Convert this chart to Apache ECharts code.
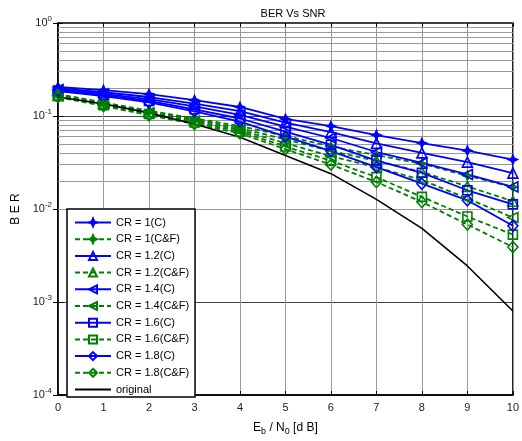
<!DOCTYPE html>
<html><head><meta charset="utf-8">
<script src="https://cdn.jsdelivr.net/npm/echarts@6/dist/echarts.min.js"></script>
<style>html,body{margin:0;padding:0;background:#fff}#c{width:522px;height:441px}</style>
</head><body><div id="c"></div>
<script>
const snr = [0,1,2,3,4,5,6,7,8,9,10];
const cr10C  = [0.205,0.190,0.172,0.148,0.125,0.093,0.078,0.0623,0.0512,0.0424,0.0340];
const cr10CF = [0.172,0.140,0.114,0.094,0.078,0.061,0.047,0.0380,0.0306,0.0228,0.0172];
const cr12C  = [0.198,0.180,0.160,0.136,0.113,0.085,0.067,0.0508,0.0401,0.0319,0.0243];
const cr12CF = [0.168,0.137,0.111,0.091,0.074,0.056,0.042,0.0330,0.0250,0.0175,0.0121];
const cr14C  = [0.193,0.173,0.152,0.127,0.103,0.077,0.058,0.0410,0.0313,0.0235,0.0173];
const cr14CF = [0.165,0.134,0.108,0.088,0.071,0.051,0.037,0.0280,0.0205,0.0130,0.0081];
const cr16C  = [0.188,0.168,0.145,0.118,0.094,0.068,0.049,0.0332,0.0245,0.0159,0.0112];
const cr16CF = [0.163,0.131,0.105,0.085,0.068,0.047,0.033,0.0220,0.0135,0.0083,0.0053];
const cr18C  = [0.185,0.164,0.140,0.112,0.087,0.060,0.042,0.0282,0.0187,0.0124,0.0066];
const cr18CF = [0.160,0.128,0.102,0.082,0.065,0.044,0.030,0.0195,0.0119,0.0068,0.0039];
const original = [0.160,0.135,0.108,0.082,0.059,0.0375,0.024,0.0127,0.0062,0.00244,0.0008];
const seriesNames = ['CR = 1(C)','CR = 1(C&F)','CR = 1.2(C)','CR = 1.2(C&F)','CR = 1.4(C)','CR = 1.4(C&F)','CR = 1.6(C)','CR = 1.6(C&F)','CR = 1.8(C)','CR = 1.8(C&F)','original'];
const seriesValues = [cr10C,cr10CF,cr12C,cr12CF,cr14C,cr14CF,cr16C,cr16CF,cr18C,cr18CF,original];
const yDecades = [-4,-3,-2,-1];
const minorMults = [2,3,4,5,6,7,8,9];

const FONT = 'Liberation Sans, Arial, sans-serif';
const BLUE = '#0000ff', GREEN = '#008000';
const starPath = 'path://M0,-10 L3,-3 L10,0 L3,3 L0,10 L-3,3 L-10,0 L-3,-3 Z';
const markers = [
  {symbol: starPath, size: 9, rot: 0, fill: true},
  {symbol: 'triangle', size: 10, rot: 0, fill: false},
  {symbol: 'triangle', size: 10, rot: 90, fill: false},
  {symbol: 'rect', size: 9, rot: 0, fill: false},
  {symbol: 'diamond', size: [10,11], rot: 0, fill: false}
];

const minorVals = [];
yDecades.forEach(d => minorMults.forEach(m => minorVals.push(m * Math.pow(10, d))));

const series = [];
series.push({
  type: 'line', data: [], silent: true, z: 0,
  markLine: {
    silent: true, symbol: 'none', z: 1, label: {show: false},
    lineStyle: {color: '#999', width: 1, type: 'solid'},
    data: minorVals.map(v => ({yAxis: v}))
  }
});
seriesNames.forEach((name, i) => {
  const vals = seriesValues[i];
  const data = snr.map((x, j) => [x, vals[j]]);
  if (i === 10) {
    series.push({name, type: 'line', data, showSymbol: false, symbol: 'none',
      lineStyle: {color: '#000', width: 1.6}, itemStyle: {color: '#000'}, z: 3});
    return;
  }
  const mk = markers[Math.floor(i / 2)];
  const isCF = i % 2 === 1;
  const col = isCF ? GREEN : BLUE;
  series.push({
    name, type: 'line', data,
    symbol: mk.symbol, symbolSize: mk.size, symbolRotate: mk.rot, showSymbol: true,
    lineStyle: {color: col, width: 1.8, type: isCF ? [5, 3] : 'solid'},
    itemStyle: {color: mk.fill ? col : 'rgba(0,0,0,0)', borderColor: col, borderWidth: 1.6},
    z: 3
  });
});

const legendData = seriesNames.map(n => n === 'original'
  ? {name: n, itemStyle: {opacity: 0}}
  : {name: n});

const chart = echarts.init(document.getElementById('c'), null, {renderer: 'canvas'});
chart.setOption({
  animation: false,
  backgroundColor: '#fff',
  textStyle: {fontFamily: FONT},
  title: {text: 'BER Vs SNR', left: 288, top: 3, textAlign: 'center',
    textStyle: {fontFamily: FONT, fontSize: 11, fontWeight: 'normal', color: '#000'}},
  grid: {left: 58, right: 3, top: 23, bottom: 43, show: true, borderColor: '#000', borderWidth: 1.5, containLabel: false},
  legend: {
    orient: 'vertical', left: 67, top: 209,
    data: legendData,
    itemWidth: 36, itemHeight: 10, itemGap: 5.7,
    padding: [8, 6, 2, 7],
    backgroundColor: '#fff', borderColor: '#000', borderWidth: 1.5,
    textStyle: {fontFamily: FONT, fontSize: 11, color: '#000'},
    selectedMode: false
  },
  xAxis: [{
    type: 'value', min: 0, max: 10, interval: 1,
    name: 'E{sub|b} / N{sub|0} [d B]', nameLocation: 'middle', nameGap: 24,
    nameTextStyle: {fontFamily: FONT, fontSize: 12, color: '#000',
      rich: {sub: {fontFamily: FONT, fontSize: 9, color: '#000', padding: [8, 0, 0, 0]}}},
    axisLine: {show: true, lineStyle: {color: '#000', width: 1.5}},
    axisTick: {show: true, inside: true, length: 4, lineStyle: {color: '#000'}},
    axisLabel: {fontFamily: FONT, fontSize: 11, color: '#222', margin: 7},
    splitLine: {show: true, lineStyle: {color: '#999', width: 1}}
  }, {
    type: 'value', min: 0, max: 10, interval: 1, position: 'top',
    axisLine: {show: false}, axisTick: {show: true, inside: true, length: 4, lineStyle: {color: '#000'}},
    axisLabel: {show: false}, splitLine: {show: false}
  }],
  yAxis: [{
    type: 'log', logBase: 10, min: 1e-4, max: 1,
    name: 'B E R', nameLocation: 'middle', nameGap: 31, nameRotate: 90,
    nameTextStyle: {fontFamily: FONT, fontSize: 12, color: '#000'},
    axisLine: {show: true, lineStyle: {color: '#000', width: 1.5}},
    axisTick: {show: true, inside: true, length: 5, lineStyle: {color: '#000'}},
    axisLabel: {fontFamily: FONT, fontSize: 11, color: '#222', margin: 6,
      formatter: v => '10{s|' + Math.round(Math.log10(v)) + '}',
      rich: {s: {fontFamily: FONT, fontSize: 8, color: '#222', padding: [0, 0, 8, 0]}}},
    splitLine: {show: true, lineStyle: {color: '#444', width: 1}}
  }, {
    type: 'log', logBase: 10, min: 1e-4, max: 1, position: 'right',
    axisLine: {show: false}, axisTick: {show: true, inside: true, length: 5, lineStyle: {color: '#000'}},
    axisLabel: {show: false}, splitLine: {show: false}
  }],
  series
});
</script></body></html>
